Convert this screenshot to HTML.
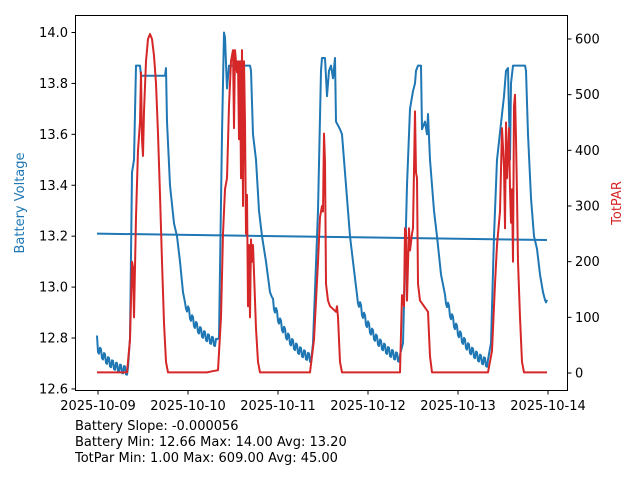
<!DOCTYPE html>
<html><head><meta charset="utf-8"><style>
body{margin:0;background:#fff;width:640px;height:480px;overflow:hidden;font-family:"Liberation Sans","DejaVu Sans",sans-serif}
svg text{font-family:"DejaVu Sans","Liberation Sans",sans-serif;font-size:13px;fill:#000}
</style></head><body>
<svg id="s" width="640" height="480" viewBox="0 0 640 480" xmlns="http://www.w3.org/2000/svg">
<g id="lines" fill="none" stroke-width="2" stroke-linejoin="round"></g>
<rect x="75.5" y="15.5" width="492" height="375" fill="none" stroke="#000" stroke-width="1"/>
<g id="ticks" stroke="#000" stroke-width="1"></g>
<g id="labs"></g>
<text x="24" y="203" transform="rotate(-90 24 203)" text-anchor="middle" style="fill:#1f77b4">Battery Voltage</text>
<text x="621" y="203" transform="rotate(-90 621 203)" text-anchor="middle" style="fill:#d62728">TotPAR</text>
<text x="75" y="430">Battery Slope: -0.000056</text>
<text x="75" y="446">Battery Min: 12.66 Max: 14.00 Avg: 13.20</text>
<text x="75" y="462">TotPar Min: 1.00 Max: 609.00 Avg: 45.00</text>
</svg>
<script>
const NS="http://www.w3.org/2000/svg";
const vy=v=>32.5+(14-v)*254.6, py=p=>373-p*0.5567;
const L=document.getElementById('lines'),T=document.getElementById('ticks'),G=document.getElementById('labs');
function el(p,t,a,txt){const e=document.createElementNS(NS,t);for(const k in a)e.setAttribute(k,a[k]);if(txt)e.textContent=txt;p.appendChild(e);return e;}
// ticks
for(let i=0;i<8;i++){const v=12.6+0.2*i,y=vy(v);el(T,'line',{x1:71.5,x2:75.5,y1:y,y2:y});el(G,'text',{x:68,y:y+4.5,'text-anchor':'end'},v.toFixed(1));}
for(let i=0;i<7;i++){const y=py(i*100);el(T,'line',{x1:567.5,x2:571.5,y1:y,y2:y});el(G,'text',{x:575,y:y+4.5},String(i*100));}
for(let d=0;d<6;d++){const x=98+90*d;el(T,'line',{x1:x,x2:x,y1:390.5,y2:394.5});el(G,'text',{x:x,y:410,'text-anchor':'middle'},'2025-10-'+(9+d<10?'0'+(9+d):9+d));}
// blue voltage
let B=[];
function decay(x0,v0,x1,v1){for(let x=x0;x<=x1;x+=1){const t=(x-x0)/(x1-x0);let v=v1+(v0-v1)*Math.exp(-2.2*t)-(v0-v1)*Math.exp(-2.2)*t;v+=((x%4)<2?0.015:-0.015);B.push([x,v]);}}
function pts(a){for(const p of a)B.push(p);}
pts([[97,12.81]]);decay(98,12.76,128,12.67);
pts([[130,12.8],[132,13.45],[134,13.5],[136,13.87],[140,13.87],[141,13.83],[165,13.83],[166,13.86],[167,13.65],[170,13.4],[174,13.25],[177,13.2],[180,13.1],[183,12.98],[185,12.94]]);
decay(186,12.93,217,12.78);
pts([[219,12.8],[222,13.6],[224,14.0],[225,13.98],[227,13.78],[229,13.87],[250,13.87],[251,13.85],[253,13.6],[256,13.5],[259,13.3],[262,13.2],[266,13.1],[270,12.98],[272,12.96]]);
decay(273,12.94,311,12.72);
pts([[313,12.78],[318,13.3],[321,13.85],[322,13.9],[325,13.9],[327,13.75],[329,13.85],[331,13.87],[333,13.82],[335,13.9],[336,13.65],[340,13.62],[342,13.6],[346,13.4],[350,13.2],[353,13.1],[357,12.97]]);
decay(358,12.95,400,12.72);
pts([[403,12.78],[407,13.4],[410,13.7],[413,13.77],[415,13.8],[416,13.85],[418,13.87],[421,13.87],[422,13.62],[425,13.65],[427,13.6],[428,13.68],[430,13.5],[434,13.3],[437,13.2],[441,13.05],[445,12.97]]);
decay(446,12.95,488,12.7);
pts([[491,12.78],[494,13.2],[497,13.5],[504,13.75],[506,13.85],[508,13.86],[510,13.5],[511,13.8],[513,13.87],[525,13.87],[526,13.85],[528,13.6],[531,13.35],[534,13.2],[537,13.15],[540,13.05],[543,12.98],[545,12.95],[546,12.94],[547,12.95]]);
el(L,'polyline',{stroke:'#1f77b4',points:B.map(p=>p[0]+','+vy(p[1]).toFixed(1)).join(' ')});
el(L,'line',{x1:97,y1:vy(13.21),x2:547,y2:vy(13.185),stroke:'#1f77b4'});
// red PAR
const R=[[97,1],[127,1],[130,60],[132,200],[133,190],[134,100],[136,280],[138,400],[140,450],[141,540],[142,420],[143,390],[144,470],[146,560],[148,600],[150,609],[152,600],[154,570],[156,520],[158,430],[160,320],[162,200],[164,90],[166,20],[168,1],[207,1],[212,3],[218,5],[221,100],[223,250],[225,330],[227,350],[229,480],[231,560],[233,580],[234,440],[235,580],[237,540],[238,560],[239,420],[240,560],[241,350],[242,580],[243,300],[244,560],[245,450],[246,250],[247,320],[248,120],[249,230],[250,100],[251,240],[252,200],[253,230],[254,180],[256,80],[258,20],[260,1],[310,1],[314,60],[318,200],[320,280],[322,300],[323,290],[324,430],[325,380],[326,160],[328,130],[330,120],[336,110],[337,120],[338,100],[340,20],[342,1],[400,1],[402,140],[404,120],[405,260],[406,255],[407,130],[409,260],[410,220],[412,250],[413,260],[415,470],[416,360],[417,350],[418,160],[420,130],[424,120],[428,110],[430,30],[432,1],[488,1],[492,40],[495,160],[497,230],[500,290],[502,440],[504,370],[505,260],[506,450],[507,350],[509,440],[510,330],[511,270],[512,330],[513,200],[514,480],[515,500],[516,420],[517,320],[518,200],[520,100],[522,20],[524,1],[547,1]];
el(L,'polyline',{stroke:'#d62728',points:R.map(p=>p[0]+','+py(p[1]).toFixed(1)).join(' ')});
</script>
</body></html>
